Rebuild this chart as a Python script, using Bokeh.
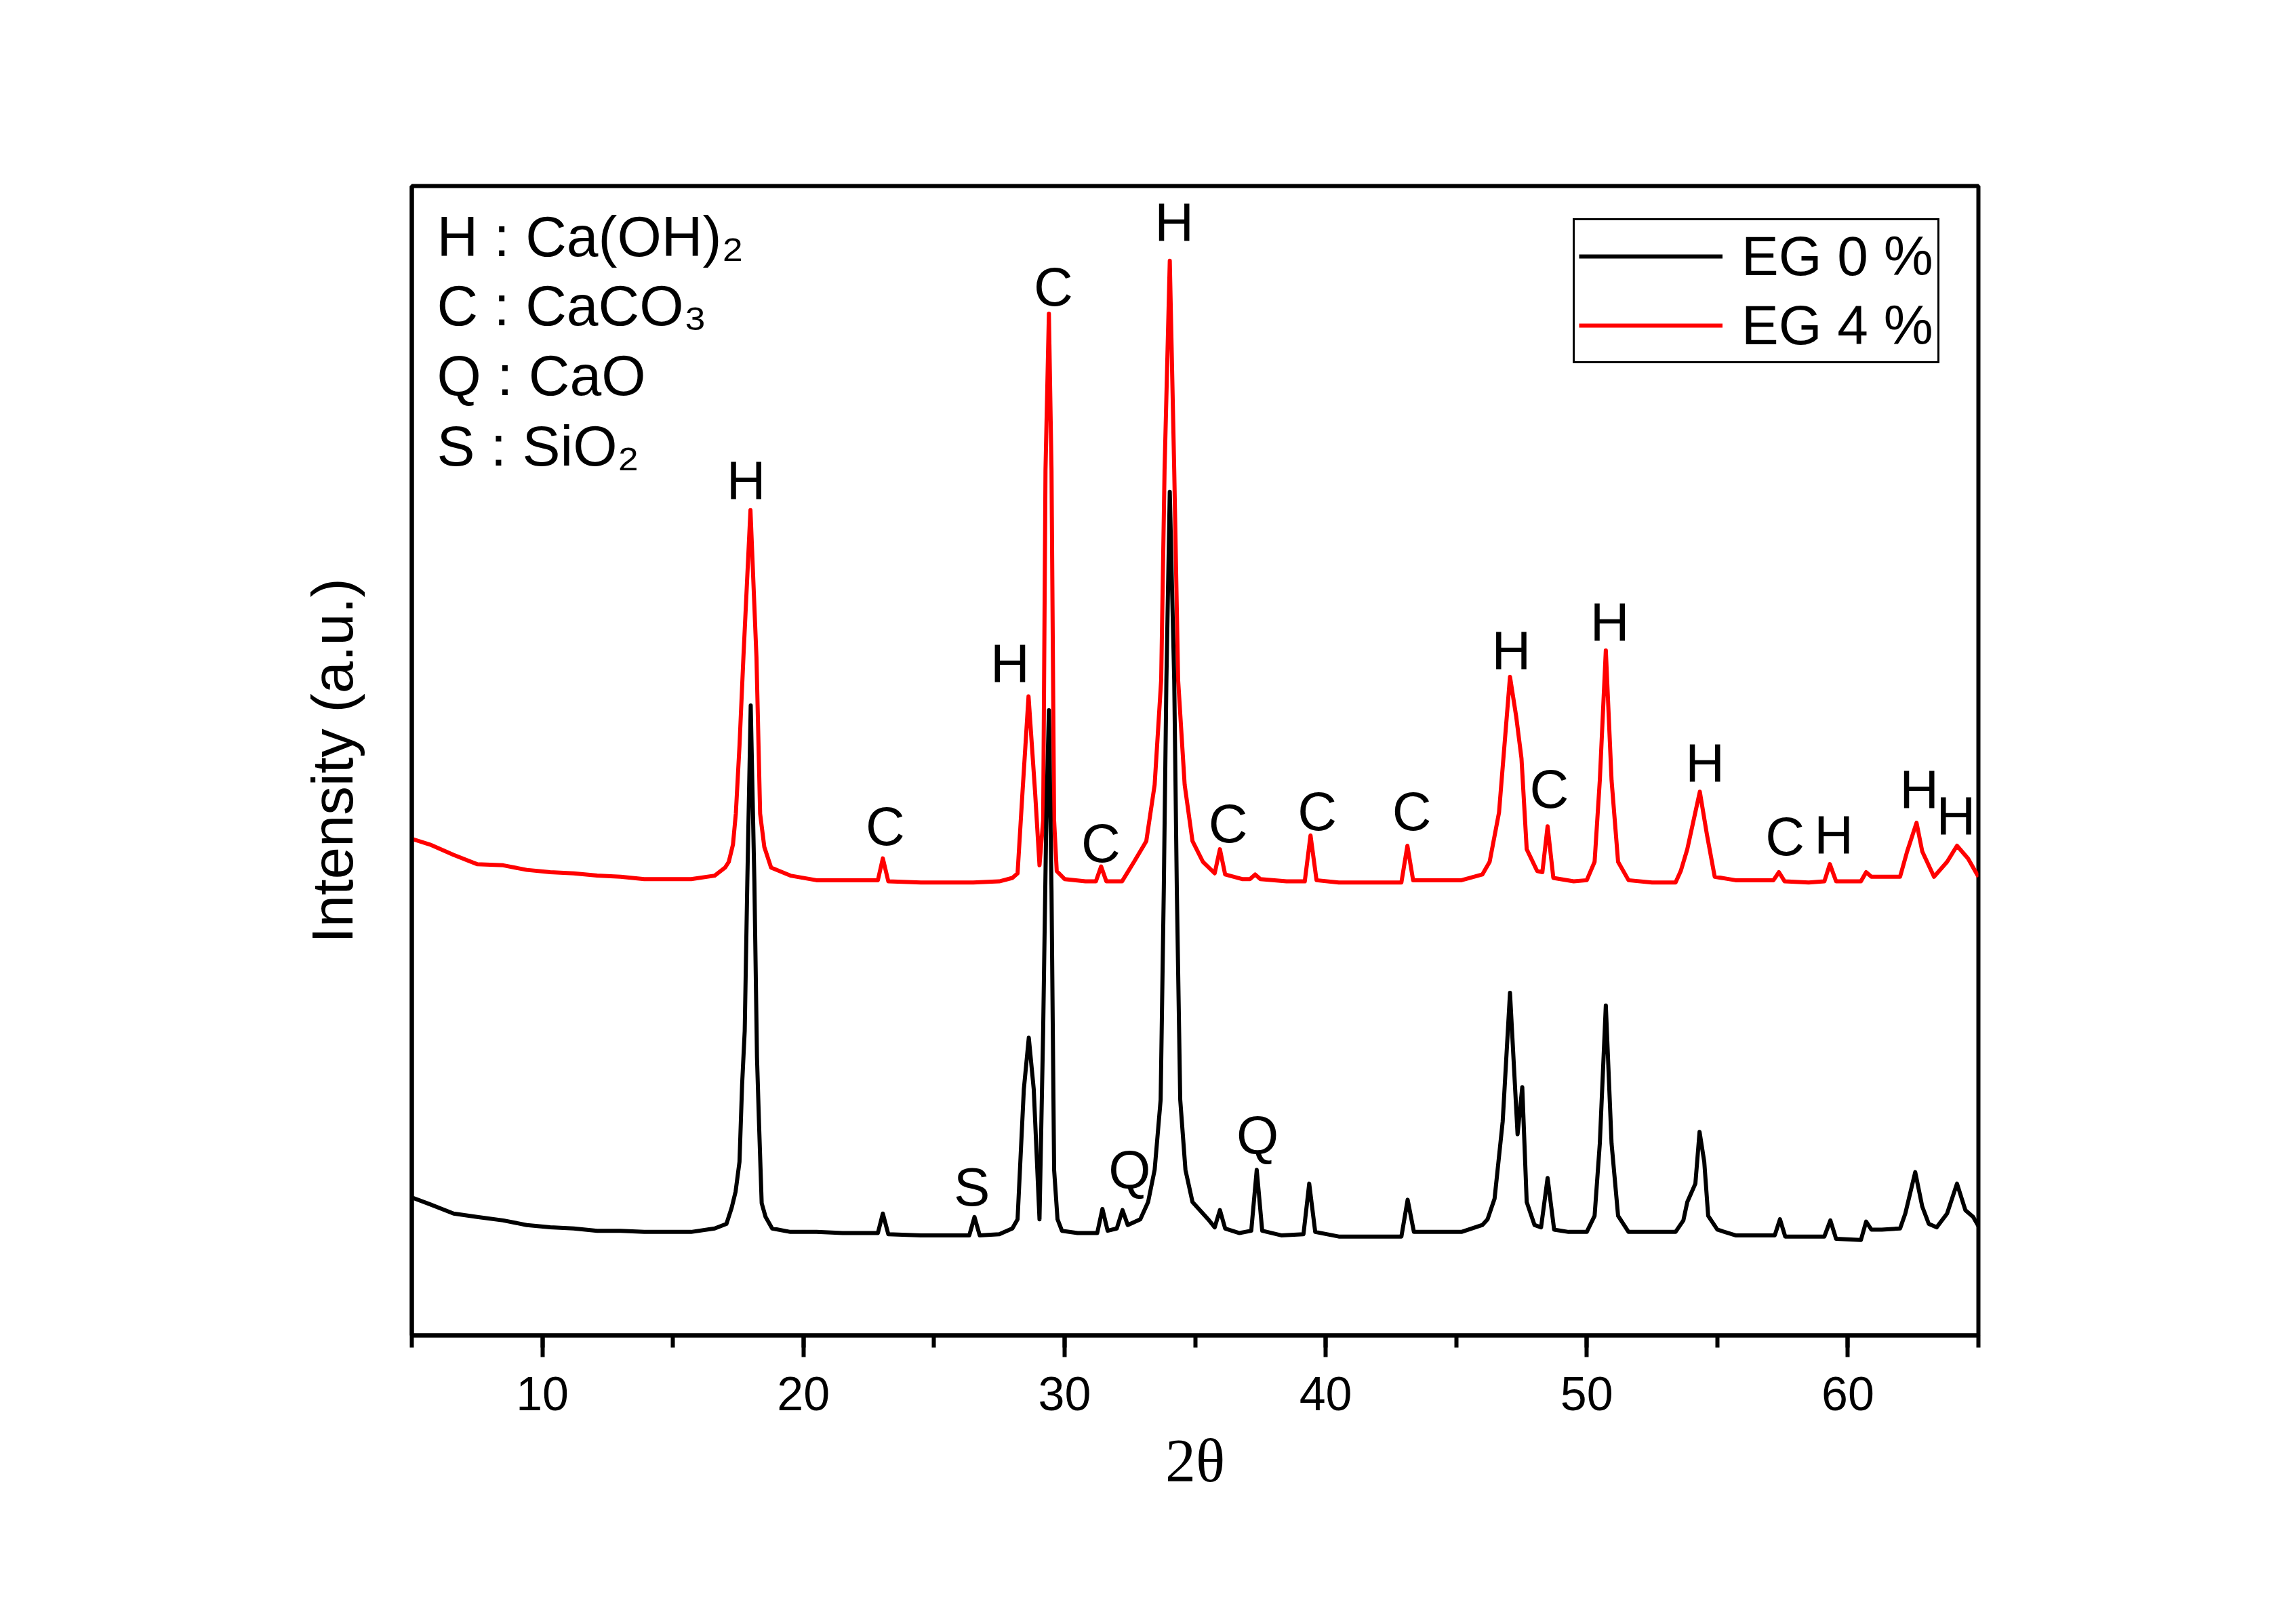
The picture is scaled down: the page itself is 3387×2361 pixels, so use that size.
from bokeh.plotting import figure
from bokeh.models import Range1d, SingleIntervalTicker, FixedTicker, Legend, LegendItem
from bokeh.core.properties import value
from bokeh.embed import file_html
from bokeh.resources import INLINE

# ---- data (2theta in degrees, intensity in a.u., curves as plotted) ----
two_theta_eg0 = [5.0, 5.7, 6.6, 7.5, 8.5, 9.4, 10.3, 11.2, 12.1, 13.0, 13.9, 14.8, 15.7, 16.6, 17.05,
                 17.25, 17.4, 17.55, 17.65, 17.75, 17.85, 17.98, 18.12, 18.22, 18.3, 18.4, 18.55, 18.8,
                 19.5, 20.5, 21.5, 22.85, 23.04, 23.25, 24.5, 25.5, 26.35, 26.55, 26.75, 27.5, 28.0,
                 28.2, 28.44, 28.63, 28.82, 29.04, 29.18, 29.3, 29.4, 29.5, 29.6, 29.73, 29.9, 30.5,
                 31.25, 31.45, 31.65, 32.0, 32.22, 32.42, 32.9, 33.2, 33.45, 33.68, 33.8, 33.9, 34.03,
                 34.2, 34.3, 34.43, 34.63, 34.9, 35.5, 35.75, 35.95, 36.15, 36.7, 37.15, 37.36, 37.57,
                 38.3, 39.15, 39.37, 39.6, 40.5, 41.5, 42.9, 43.14, 43.38, 44.2, 45.2, 46.0, 46.2,
                 46.47, 46.78, 47.06, 47.35, 47.53, 47.7, 48.0, 48.25, 48.5, 48.75, 49.3, 50.0, 50.3,
                 50.5, 50.73, 50.95, 51.2, 51.6, 52.5, 53.4, 53.7, 53.85, 54.16, 54.32, 54.5, 54.65,
                 55.0, 55.7, 56.5, 57.2, 57.4, 57.6, 58.5, 59.1, 59.33, 59.55, 60.5, 60.7, 60.9, 61.3,
                 62.0, 62.2, 62.58, 62.85, 63.1, 63.4, 63.8, 64.18, 64.5, 64.8, 65.0]
intensity_eg0 = [12.0, 11.4, 10.6, 10.3, 10.0, 9.6, 9.4, 9.3, 9.1, 9.1, 9.0, 9.0, 9.0, 9.3, 9.7,
                 11.1, 12.5, 15.1, 21.8, 26.5, 39.5, 54.8, 39.5, 24.2, 18.3, 11.5, 10.3, 9.3,
                 9.0, 9.0, 8.9, 8.9, 10.6, 8.8, 8.7, 8.7, 8.7, 10.3, 8.7, 8.8, 9.3,
                 10.1, 21.4, 25.9, 21.4, 10.1, 26.5, 44.8, 54.4, 38.7, 14.4, 10.1, 9.1, 8.9,
                 8.9, 11.0, 9.1, 9.3, 10.9, 9.6, 10.1, 11.6, 14.4, 20.5, 38.7, 57.0, 73.4,
                 57.0, 38.7, 20.5, 14.4, 11.6, 10.1, 9.4, 10.9, 9.3, 8.9, 9.1, 14.4, 9.1,
                 8.7, 8.8, 13.2, 9.0, 8.6, 8.6, 8.6, 11.8, 9.0, 9.0, 9.0, 9.6, 10.1,
                 11.9, 18.6, 29.8, 17.5, 21.6, 11.6, 9.6, 9.4, 13.7, 9.2, 9.0, 9.0, 10.4,
                 16.7, 28.7, 16.7, 10.4, 9.0, 9.0, 9.0, 10.0, 11.6, 13.2, 17.7, 15.1, 10.4,
                 9.2, 8.7, 8.7, 8.7, 10.1, 8.6, 8.6, 8.6, 10.0, 8.4, 8.3, 9.9, 9.2, 9.2,
                 9.3, 10.6, 14.2, 11.2, 9.7, 9.4, 10.6, 13.2, 10.9, 10.3, 9.5]

two_theta_eg4 = [5.0, 5.7, 6.6, 7.5, 8.5, 9.4, 10.3, 11.2, 12.1, 13.0, 13.9, 14.8, 15.7, 16.6, 17.0,
                 17.14, 17.3, 17.41, 17.55, 17.7, 17.97, 18.2, 18.34, 18.5, 18.76, 19.5, 20.5, 21.5,
                 22.85, 23.04, 23.25, 24.5, 25.5, 26.5, 27.5, 28.0, 28.2, 28.39, 28.62, 28.87, 29.04,
                 29.18, 29.27, 29.4, 29.5, 29.6, 29.7, 30.0, 30.8, 31.2, 31.4, 31.6, 32.2, 32.66,
                 33.13, 33.45, 33.7, 33.83, 34.03, 34.2, 34.35, 34.6, 34.9, 35.3, 35.75, 35.95, 36.15,
                 36.8, 37.1, 37.3, 37.5, 38.5, 39.2, 39.42, 39.65, 40.5, 41.5, 42.9, 43.13, 43.35,
                 44.2, 45.2, 46.0, 46.28, 46.64, 47.06, 47.3, 47.5, 47.7, 48.1, 48.3, 48.5, 48.72,
                 49.5, 50.0, 50.3, 50.5, 50.73, 50.95, 51.2, 51.6, 52.5, 53.4, 53.6, 53.85, 54.33,
                 54.6, 54.9, 55.7, 56.5, 57.15, 57.36, 57.58, 58.5, 59.1, 59.31, 59.55, 60.5, 60.7,
                 60.9, 61.6, 62.0, 62.27, 62.63, 62.85, 63.3, 63.8, 64.18, 64.6, 65.0]
intensity_eg4 = [43.2, 42.7, 41.8, 41.0, 40.9, 40.5, 40.3, 40.2, 40.0, 39.9, 39.7, 39.7, 39.7, 40.0, 40.7,
                 41.2, 42.7, 45.4, 51.3, 59.0, 71.8, 59.0, 45.4, 42.5, 40.7, 40.0, 39.6, 39.6,
                 39.6, 41.5, 39.5, 39.4, 39.4, 39.4, 39.5, 39.8, 40.2, 47.3, 55.6, 47.3, 40.9,
                 44.8, 75.3, 88.9, 75.3, 44.8, 40.4, 39.7, 39.5, 39.5, 40.8, 39.5, 39.5, 41.2,
                 43.0, 47.9, 57.0, 75.3, 93.5, 75.3, 57.0, 47.9, 43.0, 41.2, 40.2, 42.3, 40.1,
                 39.7, 39.7, 40.1, 39.7, 39.5, 39.5, 43.5, 39.6, 39.4, 39.4, 39.4, 42.6, 39.6,
                 39.6, 39.6, 40.1, 41.2, 45.5, 57.3, 53.8, 50.2, 42.3, 40.4, 40.3, 44.3, 39.8,
                 39.5, 39.6, 41.2, 48.3, 59.6, 48.3, 41.2, 39.6, 39.4, 39.4, 40.4, 42.3, 47.3,
                 43.6, 39.9, 39.6, 39.6, 39.6, 40.3, 39.5, 39.4, 39.5, 41.0, 39.5, 39.5, 40.3,
                 39.9, 39.9, 39.9, 42.1, 44.6, 42.1, 39.9, 41.2, 42.6, 41.5, 39.9]

series_names = ["EG 0 %", "EG 4 %"]

# peak assignments (phase letter, 2theta, intensity where the letter sits)
peak_labels = ["H", "C", "H", "C", "C", "H", "C", "C", "C", "H", "C", "H", "H", "C", "H", "H", "H",
               "S", "Q", "Q"]
peak_label_x = [17.8, 23.13, 27.91, 29.57, 31.39, 34.2, 36.26, 39.68, 43.3, 47.11, 48.56, 50.88,
                54.53, 57.59, 59.46, 62.73, 64.14, 26.45, 32.49, 37.39]
peak_label_y = [74.4, 44.3, 58.5, 91.2, 42.8, 96.9, 44.5, 45.55, 45.55, 59.6, 47.5, 62.1,
                49.8, 43.4, 43.6, 47.5, 45.2, 12.9, 14.4, 17.4]

phase_key = ["H : Ca(OH)\u2082", "C : CaCO\u2083", "Q : CaO", "S : SiO\u2082"]
phase_key_x = [5.96, 5.96, 5.96, 5.96]
phase_key_y = [95.6, 89.6, 83.5, 77.4]

# ---- figure ----
p = figure(width=3387, height=2361, x_range=Range1d(5, 65), y_range=Range1d(0, 100),
           output_backend="svg", toolbar_location=None,
           min_border_left=607, min_border_right=469, min_border_top=274, min_border_bottom=391,
           background_fill_color="white", border_fill_color="white")
p.xgrid.visible = False
p.ygrid.visible = False
p.outline_line_color = "black"
p.outline_line_width = 6
p.outline_line_alpha = 1.0

xa = p.xaxis[0]
xa.ticker = SingleIntervalTicker(interval=10, num_minor_ticks=2)
xa.axis_line_width = 6
xa.axis_line_color = "black"
xa.major_tick_in = 0
xa.major_tick_out = 32
xa.minor_tick_in = 0
xa.minor_tick_out = 18
xa.major_tick_line_width = 6
xa.minor_tick_line_width = 6
xa.major_label_text_font = "Liberation Sans"
xa.major_label_text_font_size = "70px"
xa.major_label_text_color = "black"
xa.major_label_standoff = 29
xa.axis_label = "2\u03b8"
xa.axis_label_text_font = "Liberation Serif"
xa.axis_label_text_font_size = "90px"
xa.axis_label_text_font_style = "normal"
xa.axis_label_text_color = "black"
xa.axis_label_standoff = 22

ya = p.yaxis[0]
ya.ticker = FixedTicker(ticks=[])
ya.axis_line_width = 6
ya.axis_line_color = "black"
ya.major_tick_line_color = None
ya.minor_tick_line_color = None
ya.axis_label = "Intensity (a.u.)"
ya.axis_label_text_font = "Liberation Sans"
ya.axis_label_text_font_size = "85px"
ya.axis_label_text_font_style = "normal"
ya.axis_label_text_color = "black"
ya.axis_label_standoff = 70

r4 = p.line(two_theta_eg4, intensity_eg4, line_color="#ff0000", line_width=6, line_join="round")
r0 = p.line(two_theta_eg0, intensity_eg0, line_color="black", line_width=6, line_join="round")

p.text(x=peak_label_x, y=peak_label_y, text=peak_labels, text_align="center",
       text_baseline="alphabetic", text_font=value("Liberation Sans"),
       text_font_size=value("80px"), text_color="black")

p.text(x=phase_key_x, y=phase_key_y, text=phase_key, text_align="left",
       text_baseline="alphabetic", text_font=value("Liberation Sans"),
       text_font_size=value("84px"), text_color="black")

legend = Legend(items=[LegendItem(label=series_names[0], renderers=[r0]),
                       LegendItem(label=series_names[1], renderers=[r4])],
                location=(1713, 1434), margin=0, padding=6, spacing=8,
                glyph_width=212, glyph_height=74, label_height=74, label_standoff=28,
                label_text_font="Liberation Sans", label_text_font_size="82px",
                label_text_line_height=1.0, label_text_color="black",
                border_line_color="black", border_line_width=3, border_line_alpha=1.0,
                background_fill_color="white", background_fill_alpha=1.0)
p.add_layout(legend)

open("out.html", "w").write(file_html(p, INLINE))
